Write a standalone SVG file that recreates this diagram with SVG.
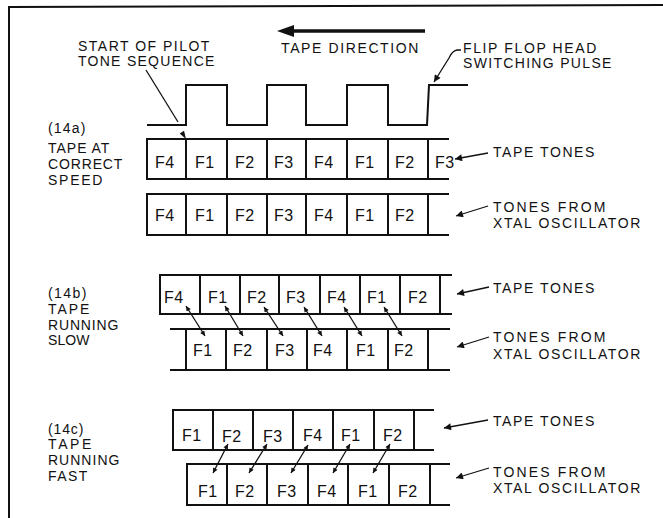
<svg xmlns="http://www.w3.org/2000/svg" width="663" height="518" viewBox="0 0 663 518">
<style>
  .ln{fill:none;stroke:#111;stroke-width:2;stroke-linejoin:miter}
  .thin{fill:none;stroke:#111;stroke-width:1.3}
  .lbl{font-family:"Liberation Sans",Arial,sans-serif;font-size:14px;fill:#111;letter-spacing:0.6px}
  .cell{font-family:"Liberation Sans",Arial,sans-serif;font-size:16px;fill:#111;letter-spacing:0.5px}
</style>
<defs>
  <marker id="ah" viewBox="0 0 10 10" refX="10" refY="5" markerWidth="7" markerHeight="5" markerUnits="userSpaceOnUse" orient="auto-start-reverse"><path d="M0,0 L10,5 L0,10 z" fill="#111"/></marker>
  <marker id="ahL" viewBox="0 0 10 10" refX="10" refY="5" markerWidth="11" markerHeight="7" markerUnits="userSpaceOnUse" orient="auto"><path d="M0,0 L10,5 L0,10 z" fill="#111"/></marker>
</defs>
<rect width="663" height="518" fill="#fff"/>
<path class="ln" d="M9,518 V7 L663,5"/>

<g id="header">
  <text class="lbl" x="78" y="51" textLength="132" lengthAdjust="spacing">START OF PILOT</text>
  <text class="lbl" x="78" y="66" textLength="137" lengthAdjust="spacing">TONE SEQUENCE</text>
  <text class="lbl" x="281" y="53" textLength="138" lengthAdjust="spacing">TAPE DIRECTION</text>
  <text class="lbl" x="463" y="53" textLength="134" lengthAdjust="spacing">FLIP FLOP HEAD</text>
  <text class="lbl" x="463" y="68" textLength="149" lengthAdjust="spacing">SWITCHING PULSE</text>
  <line x1="292" y1="31" x2="425" y2="31" stroke="#111" stroke-width="3.5"/>
  <polygon points="277,31 294,25 294,37" fill="#111"/>
</g>

<g id="pulse">
  <path class="ln" d="M147,125 H186 V85 H227 V125 H267 V85 H306 V125 H347 V85 H388 V125 H427 L429,85 H468"/>
</g>

<g id="labels-left">
  <text class="lbl" x="48" y="133" textLength="38" lengthAdjust="spacing">(14a)</text>
  <text class="lbl" x="48" y="153" textLength="62" lengthAdjust="spacing">TAPE AT</text>
  <text class="lbl" x="48" y="169" textLength="75" lengthAdjust="spacing">CORRECT</text>
  <text class="lbl" x="48" y="185" textLength="55" lengthAdjust="spacing">SPEED</text>

  <text class="lbl" x="48" y="298" textLength="39" lengthAdjust="spacing">(14b)</text>
  <text class="lbl" x="48" y="314" textLength="42" lengthAdjust="spacing">TAPE</text>
  <text class="lbl" x="48" y="330" textLength="71" lengthAdjust="spacing">RUNNING</text>
  <text class="lbl" x="48" y="345" textLength="42" lengthAdjust="spacing">SLOW</text>

  <text class="lbl" x="48" y="434" textLength="36" lengthAdjust="spacing">(14c)</text>
  <text class="lbl" x="48" y="449" textLength="44" lengthAdjust="spacing">TAPE</text>
  <text class="lbl" x="48" y="465" textLength="72" lengthAdjust="spacing">RUNNING</text>
  <text class="lbl" x="48" y="481" textLength="40" lengthAdjust="spacing">FAST</text>
</g>

<g id="labels-right">
  <text class="lbl" x="493" y="157" textLength="102" lengthAdjust="spacing">TAPE TONES</text>
  <text class="lbl" x="493" y="212" textLength="113" lengthAdjust="spacing">TONES FROM</text>
  <text class="lbl" x="493" y="228" textLength="148" lengthAdjust="spacing">XTAL OSCILLATOR</text>

  <text class="lbl" x="493" y="293" textLength="102" lengthAdjust="spacing">TAPE TONES</text>
  <text class="lbl" x="493" y="342" textLength="113" lengthAdjust="spacing">TONES FROM</text>
  <text class="lbl" x="493" y="359" textLength="148" lengthAdjust="spacing">XTAL OSCILLATOR</text>

  <text class="lbl" x="493" y="426" textLength="102" lengthAdjust="spacing">TAPE TONES</text>
  <text class="lbl" x="493" y="477" textLength="113" lengthAdjust="spacing">TONES FROM</text>
  <text class="lbl" x="493" y="493" textLength="148" lengthAdjust="spacing">XTAL OSCILLATOR</text>
</g>

<g id="row-a-tape">
  <path class="ln" d="M449,139 H147 V179 H449 M186,139 V179 M227,139 V179 M267,139 V179 M306,139 V179 M347,139 V179 M388,139 V179 M428,139 V179"/>
  <text class="cell" x="155" y="168">F4</text><text class="cell" x="195" y="168">F1</text><text class="cell" x="235" y="168">F2</text><text class="cell" x="274" y="168">F3</text><text class="cell" x="314" y="168">F4</text><text class="cell" x="355" y="168">F1</text><text class="cell" x="395" y="168">F2</text><text class="cell" x="435" y="168">F3</text>
</g>
<g id="row-a-xtal">
  <path class="ln" d="M449,194 H147 V235 H449 M186,194 V235 M227,194 V235 M267,194 V235 M306,194 V235 M347,194 V235 M388,194 V235 M428,194 V235"/>
  <text class="cell" x="155" y="221">F4</text><text class="cell" x="195" y="221">F1</text><text class="cell" x="235" y="221">F2</text><text class="cell" x="274" y="221">F3</text><text class="cell" x="314" y="221">F4</text><text class="cell" x="355" y="221">F1</text><text class="cell" x="395" y="221">F2</text>
</g>

<g id="row-b-tape">
  <path class="ln" d="M452,275 H160 V314 H452 M200,275 V314 M240,275 V314 M279,275 V314 M320,275 V314 M360,275 V314 M400,275 V314 M440,275 V314"/>
  <text class="cell" x="164" y="303">F4</text><text class="cell" x="208" y="303">F1</text><text class="cell" x="247" y="303">F2</text><text class="cell" x="286" y="303">F3</text><text class="cell" x="327" y="303">F4</text><text class="cell" x="367" y="303">F1</text><text class="cell" x="408" y="303">F2</text>
</g>
<g id="row-b-xtal">
  <path class="ln" d="M170,329 H450 M170,370 H450 M186,329 V370 M226,329 V370 M267,329 V370 M307,329 V370 M347,329 V370 M388,329 V370 M428,329 V370"/>
  <text class="cell" x="193" y="356">F1</text><text class="cell" x="233" y="356">F2</text><text class="cell" x="275" y="356">F3</text><text class="cell" x="313" y="356">F4</text><text class="cell" x="356" y="356">F1</text><text class="cell" x="394" y="356">F2</text>
</g>

<g id="row-c-tape">
  <path class="ln" d="M434,410 H173 V450 H434 M213,410 V450 M253,410 V450 M293,410 V450 M333,410 V450 M374,410 V450 M414,410 V450"/>
  <text class="cell" x="182" y="441">F1</text><text class="cell" x="222" y="442">F2</text><text class="cell" x="263" y="442">F3</text><text class="cell" x="303" y="441">F4</text><text class="cell" x="341" y="441">F1</text><text class="cell" x="383" y="441">F2</text>
</g>
<g id="row-c-xtal">
  <path class="ln" d="M450,464 H187 V505 H450 M227,464 V505 M267,464 V505 M308,464 V505 M348,464 V505 M389,464 V505 M430,464 V505"/>
  <text class="cell" x="198" y="497">F1</text><text class="cell" x="235" y="497">F2</text><text class="cell" x="277" y="497">F3</text><text class="cell" x="317" y="497">F4</text><text class="cell" x="358" y="497">F1</text><text class="cell" x="398" y="497">F2</text>
</g>

<g id="connectors">
  <line class="thin" x1="146" y1="70" x2="178" y2="122"/>
  <polygon points="186,139 184,130.8 179.7,133.5" fill="#111"/>
  <path class="thin" d="M461,50 L457,50 Q452,51 449,58 L434,82" marker-end="url(#ahL)"/>
  <line class="thin" x1="488" y1="153" x2="455" y2="159" marker-end="url(#ahL)"/>
  <line class="thin" x1="488" y1="206" x2="456" y2="216" marker-end="url(#ahL)"/>
  <line class="thin" x1="489" y1="287" x2="457" y2="294" marker-end="url(#ahL)"/>
  <line class="thin" x1="489" y1="337" x2="457" y2="347" marker-end="url(#ahL)"/>
  <line class="thin" x1="488" y1="420" x2="444" y2="428" marker-end="url(#ahL)"/>
  <line class="thin" x1="489" y1="468" x2="456" y2="478" marker-end="url(#ahL)"/>

  <line class="thin" x1="186" y1="306" x2="205" y2="336" marker-start="url(#ah)" marker-end="url(#ah)"/>
  <line class="thin" x1="225" y1="306" x2="243" y2="336" marker-start="url(#ah)" marker-end="url(#ah)"/>
  <line class="thin" x1="264" y1="307" x2="283" y2="336" marker-start="url(#ah)" marker-end="url(#ah)"/>
  <line class="thin" x1="304" y1="307" x2="322" y2="336" marker-start="url(#ah)" marker-end="url(#ah)"/>
  <line class="thin" x1="344" y1="307" x2="362" y2="336" marker-start="url(#ah)" marker-end="url(#ah)"/>
  <line class="thin" x1="384" y1="307" x2="402" y2="336" marker-start="url(#ah)" marker-end="url(#ah)"/>

  <line class="thin" x1="228" y1="444" x2="213" y2="473" marker-start="url(#ah)" marker-end="url(#ah)"/>
  <line class="thin" x1="267" y1="444" x2="249" y2="473" marker-start="url(#ah)" marker-end="url(#ah)"/>
  <line class="thin" x1="308" y1="445" x2="291" y2="473" marker-start="url(#ah)" marker-end="url(#ah)"/>
  <line class="thin" x1="350" y1="444" x2="333" y2="473" marker-start="url(#ah)" marker-end="url(#ah)"/>
  <line class="thin" x1="390" y1="444" x2="373" y2="473" marker-start="url(#ah)" marker-end="url(#ah)"/>
</g>
</svg>
